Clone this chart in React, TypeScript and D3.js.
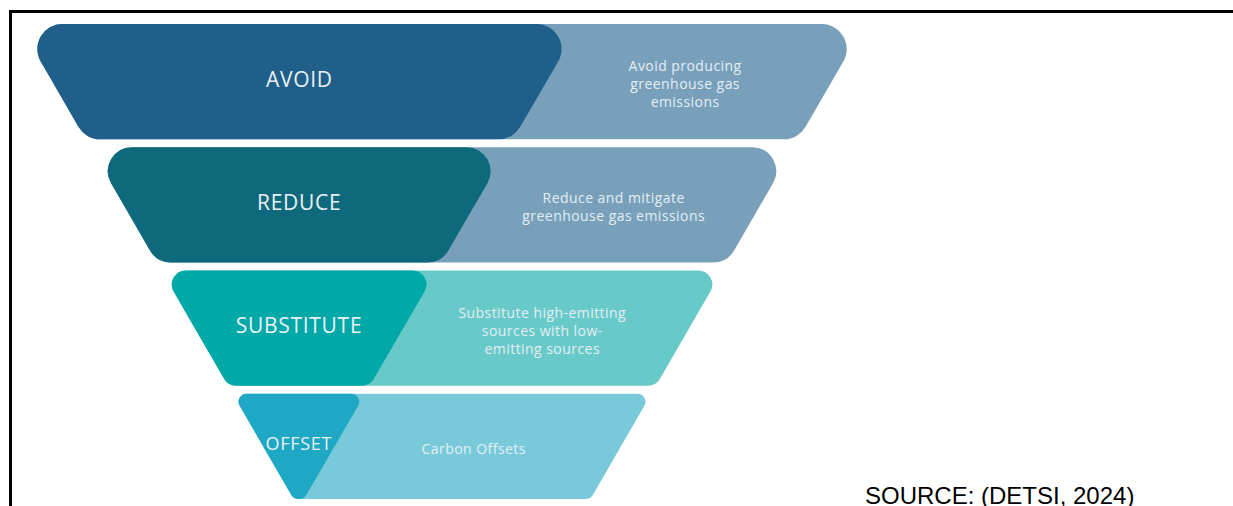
import React from "react";
import * as d3 from "d3";

// ---- data ----
const stages: string[] = ["AVOID", "REDUCE", "SUBSTITUTE", "OFFSET"];
const descriptions: string[][] = [
  ["Avoid producing", "greenhouse gas", "emissions"],
  ["Reduce and mitigate", "greenhouse gas emissions"],
  ["Substitute high-emitting", "sources with low-", "emitting sources"],
  ["Carbon Offsets"],
];
const sourceNote = "SOURCE: (DETSI, 2024)";

// ---- styles ----
const darkFill = ["#205f8a", "#0f697c", "#01a8a8", "#1fa8c4"];
const lightFill = ["#78a0bb", "#78a0bb", "#68cac8", "#78cadb"];
const cornerRadius = [25, 24, 14, 8];
const titleSize = [21, 21, 21, 18];
const textColor = "#eaf1f4";
const descColor = "#e4eef2";

const W = 1233;
const H = 506;
const TOP = 24;
const BOTTOM = 499;

const rowBand = d3
  .scaleBand<string>()
  .domain(stages)
  .range([TOP, 509])
  .paddingInner(0.065);

const leftEdge = d3.scaleLinear().domain([TOP, BOTTOM]).range([19, 293.6]);
const outerRight = d3.scaleLinear().domain([TOP, BOTTOM]).range([865, 590.5]);
const innerRight = d3.scaleLinear().domain([TOP, BOTTOM]).range([580, 304]);

type P = [number, number];

function roundedPoly(pts: P[], r: number): string {
  const p = d3.path();
  const n = pts.length;
  const a = pts[n - 1];
  const b = pts[0];
  p.moveTo((a[0] + b[0]) / 2, (a[1] + b[1]) / 2);
  for (let i = 0; i < n; i++) {
    const c = pts[i];
    const d = pts[(i + 1) % n];
    p.arcTo(c[0], c[1], d[0], d[1], r);
  }
  p.closePath();
  return p.toString();
}

function band(y0: number, y1: number, right: d3.ScaleLinear<number, number>): P[] {
  return [
    [leftEdge(y0), y0],
    [right(y0), y0],
    [right(y1), y1],
    [leftEdge(y1), y1],
  ];
}

export default function App() {
  return (
    <svg
      width={W}
      height={H}
      viewBox={`0 0 ${W} ${H}`}
      style={{ position: "absolute", left: 0, top: 0, background: "#ffffff" }}
    >
      <rect x={0} y={0} width={W} height={H} fill="#ffffff" />
      {/* frame */}
      <rect x={9} y={10} width={W - 9} height={3} fill="#000000" />
      <rect x={9} y={10} width={3} height={H - 10} fill="#000000" />

      {stages.map((s, i) => {
        const y0 = rowBand(s)!;
        const y1 = Math.min(y0 + rowBand.bandwidth(), BOTTOM);
        const cy = (y0 + y1) / 2;
        const darkCx = (leftEdge(cy) + innerRight(cy)) / 2;
        const lightCx = (innerRight(cy) + outerRight(cy)) / 2 - 4;
        const lines = descriptions[i];
        const lh = 18;
        const descTop = cy + 2 - ((lines.length - 1) * lh) / 2;
        const r = cornerRadius[i];
        return (
          <g key={s}>
            <path d={roundedPoly(band(y0, y1, outerRight), r)} fill={lightFill[i]} />
            <path d={roundedPoly(band(y0, y1, innerRight), r)} fill={darkFill[i]} />
            <text
              x={darkCx}
              y={cy - 3}
              textAnchor="middle"
              dominantBaseline="central"
              fill={textColor}
              fontFamily="'Open Sans', sans-serif"
              fontSize={titleSize[i]}
              letterSpacing={0.7}
            >
              {s}
            </text>
            {lines.map((ln, j) => (
              <text
                key={j}
                x={lightCx}
                y={descTop + j * lh}
                textAnchor="middle"
                dominantBaseline="central"
                fill={descColor}
                fontFamily="'Open Sans', sans-serif"
                fontSize={14}
                letterSpacing={0.45}
              >
                {ln}
              </text>
            ))}
          </g>
        );
      })}

      <text
        x={865}
        y={504}
        fill="#000000"
        fontFamily="'Liberation Sans', Arial, sans-serif"
        fontSize={24}
      >
        {sourceNote}
      </text>
    </svg>
  );
}
